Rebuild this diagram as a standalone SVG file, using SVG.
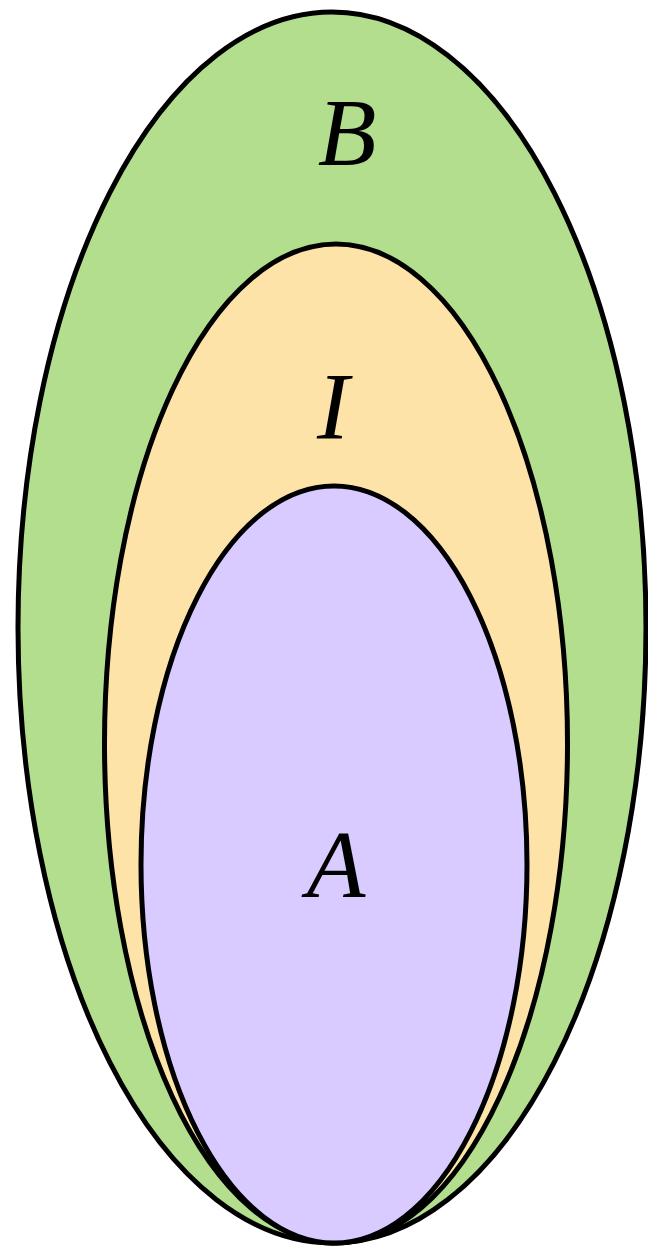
<svg xmlns="http://www.w3.org/2000/svg" width="648" height="1248" viewBox="0 0 648 1248">
<style>
.set{stroke:#000;stroke-width:5}
.lbl{font-family:"Liberation Serif","DejaVu Serif",serif;font-style:italic;font-size:96px;fill:#000;text-anchor:middle}
</style>
<rect width="648" height="1248" fill="#fff"/>
<g id="B">
<ellipse class="set" cx="332" cy="627.5" rx="314" ry="615.5" fill="#b3de8e"/>
<text class="lbl" x="347" y="165">B</text>
</g>
<g id="I">
<ellipse class="set" cx="336" cy="743.5" rx="231.5" ry="499.5" fill="#fde3a8"/>
<text class="lbl" x="333" y="439">I</text>
</g>
<g id="A">
<ellipse class="set" cx="334" cy="864.5" rx="193" ry="378.5" fill="#d9caff"/>
<text class="lbl" x="336" y="897">A</text>
</g>
<g id="connectors"/>
</svg>
